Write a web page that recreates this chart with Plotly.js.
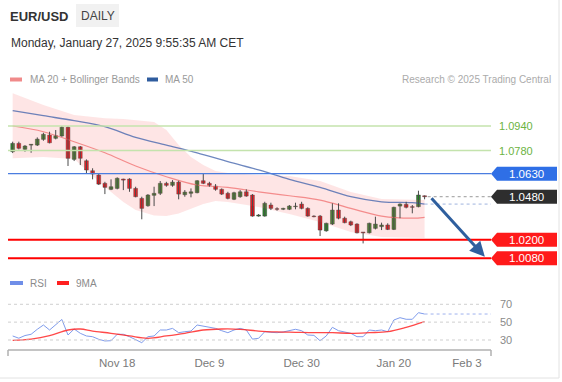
<!DOCTYPE html>
<html><head><meta charset="utf-8">
<script src="https://cdn.plot.ly/plotly-3.0.1.min.js"></script>
<style>html,body{margin:0;padding:0;background:#fff}#chart{width:562px;height:382px}</style>
</head><body><div id="chart"></div>
<script>
// ---- data ----
const openP  = [1.0773,1.0827,1.0788,1.0816,1.0816,1.0853,1.0881,1.0860,1.0875,1.0932,1.0723,1.0805,1.0714,1.0649,1.0621,1.0567,1.0528,1.0534,1.0595,1.0595,1.0534,1.0469,1.0421,1.0489,1.0502,1.0567,1.0554,1.0575,1.0493,1.0502,1.0506,1.0584,1.0567,1.0549,1.0528,1.0502,1.0463,1.0480,1.0512,1.0491,1.0354,1.0354,1.0426,1.0402,1.0398,1.0398,1.0415,1.0432,1.0404,1.0354,1.0354,1.0258,1.0302,1.0393,1.0340,1.0317,1.0302,1.0250,1.0245,1.0274,1.0285,1.0296,1.0267,1.0419,1.0430,1.0415,1.0415,1.0486];
const highP  = [1.0838,1.0838,1.0816,1.0823,1.0866,1.0896,1.0903,1.0914,1.0940,1.0938,1.0810,1.0810,1.0723,1.0665,1.0632,1.0577,1.0593,1.0606,1.0597,1.0600,1.0545,1.0480,1.0497,1.0545,1.0582,1.0577,1.0588,1.0584,1.0523,1.0534,1.0588,1.0632,1.0577,1.0562,1.0534,1.0512,1.0512,1.0523,1.0528,1.0497,1.0367,1.0447,1.0441,1.0411,1.0408,1.0426,1.0441,1.0447,1.0411,1.0359,1.0361,1.0311,1.0437,1.0437,1.0350,1.0324,1.0307,1.0250,1.0311,1.0350,1.0311,1.0307,1.0415,1.0437,1.0447,1.0426,1.0519,1.0488];
const lowP   = [1.0764,1.0788,1.0773,1.0766,1.0810,1.0844,1.0827,1.0853,1.0870,1.0680,1.0712,1.0686,1.0632,1.0593,1.0556,1.0497,1.0523,1.0528,1.0523,1.0512,1.0476,1.0333,1.0415,1.0419,1.0491,1.0545,1.0545,1.0463,1.0480,1.0476,1.0502,1.0562,1.0545,1.0519,1.0491,1.0463,1.0458,1.0473,1.0480,1.0350,1.0350,1.0350,1.0393,1.0389,1.0393,1.0393,1.0398,1.0398,1.0350,1.0346,1.0224,1.0252,1.0296,1.0333,1.0307,1.0289,1.0241,1.0176,1.0241,1.0267,1.0263,1.0263,1.0263,1.0340,1.0404,1.0372,1.0411,1.0463];
const closeP = [1.0827,1.0795,1.0810,1.0821,1.0855,1.0886,1.0831,1.0877,1.0932,1.0730,1.0805,1.0730,1.0654,1.0628,1.0562,1.0541,1.0545,1.0600,1.0588,1.0534,1.0480,1.0404,1.0491,1.0502,1.0567,1.0554,1.0575,1.0497,1.0510,1.0512,1.0584,1.0567,1.0554,1.0528,1.0497,1.0469,1.0506,1.0512,1.0484,1.0354,1.0361,1.0437,1.0404,1.0398,1.0404,1.0419,1.0419,1.0404,1.0354,1.0350,1.0263,1.0307,1.0393,1.0340,1.0311,1.0296,1.0245,1.0245,1.0307,1.0302,1.0296,1.0267,1.0411,1.0432,1.0411,1.0411,1.0491,1.0480];

const maIdx   = [0,5,10,15,20,25,30,35,40,45,50,55,60,65,67];
const ma20    = [1.0940,1.0903,1.0838,1.0766,1.0680,1.0610,1.0556,1.0541,1.0512,1.0486,1.0458,1.0404,1.0354,1.0340,1.0346];
const ma50    = [1.1040,1.1007,1.0975,1.0936,1.0866,1.0816,1.0766,1.0708,1.0654,1.0593,1.0541,1.0480,1.0447,1.0441,1.0432];

const bandIdx   = [0,5,10,13,15,18,20,23,25,27,29,31,33,35,40,45,50,55,60,65,67];
const bandUpper = [1.1153,1.1077,1.1012,1.0999,1.0990,1.0986,1.0979,1.0966,1.0914,1.0816,1.0738,1.0686,1.0647,1.0634,1.0621,1.0615,1.0582,1.0510,1.0465,1.0458,1.0458];
const bandLower = [1.0730,1.0738,1.0725,1.0615,1.0543,1.0445,1.0393,1.0357,1.0354,1.0370,1.0400,1.0432,1.0452,1.0445,1.0413,1.0367,1.0315,1.0250,1.0217,1.0211,1.0211];

const rsi = [34.5,32,35,36.4,42,46.8,41.2,46.8,53,35.6,42.3,37.5,34.5,33.7,30.8,28.9,29.2,36.4,36.4,33.7,30,27,33.7,34.5,41.2,41.2,43,38.2,39.3,40,46.8,45.7,44.2,43,40.4,38.2,41.2,43,41.2,31,31.9,39.3,38.6,38.2,39,40.4,42,40.4,35.6,35.2,29.2,34.5,44.2,40.4,39,37.5,33.7,33.7,41.2,40.4,41.2,39.3,52.4,55,53.2,53.2,60.6,59.1];
const rsiMaIdx = [0,3,6,9,11,13,16,19,22,25,28,31,34,37,40,43,46,49,52,55,58,61,64,67];
const rsiMa    = [29.6,31,34.8,41.2,42.3,40,37.5,34.5,31.9,34.5,37.5,41.2,42.3,42,40,39,38.6,38.2,38.2,37.5,38.2,39.3,44.2,50.5];

const resistance = [1.0940,1.0780];
const pivot = 1.0630;
const support = [1.0200,1.0080];
const rsiLevels = [70,50,30];
const tickLabels = ['Nov 18','Dec 9','Dec 30','Jan 20','Feb 3'];
const tickIdx    = [17,32,47,62,73.9];

// ---- drawing ----
const FONT = 'Liberation Sans, Arial, sans-serif';
const W=562,H=382,ML=8,MR=71,MT=85,MB=32;
const PW=W-ML-MR, PH=H-MT-MB;
const px = x => (x-ML)/PW;
const py = y => (H-MB-y)/PH;
const XR=[-0.76,77.8];
const YR=[1.0016,1.1207];
const priceDom=[(H-MB-268)/PH,1];
const rsiDom=[0,(H-MB-295)/PH];
const unitPerPx=(YR[1]-YR[0])/(PH*(priceDom[1]-priceDom[0]));

const n=openP.length;
const idx=openP.map((_,i)=>i);
const last=n-1;

// wicks
const wx=[],wy=[];
idx.forEach(i=>{wx.push(i,i,null);wy.push(lowP[i],highP[i],null);});
const bodyBase=idx.map(i=>Math.min(openP[i],closeP[i]));
const bodyH=idx.map(i=>Math.max(Math.abs(closeP[i]-openP[i]),0.00014));
const bodyCol=idx.map(i=>closeP[i]>=openP[i]?'#2f8a2f':'#e8141b');

const traces=[
 {x:bandIdx,y:bandUpper,type:'scatter',mode:'lines',line:{width:0,color:'rgba(0,0,0,0)'},xaxis:'x',yaxis:'y',hoverinfo:'skip'},
 {x:bandIdx,y:bandLower,type:'scatter',mode:'lines',line:{width:0,color:'rgba(0,0,0,0)'},fill:'tonexty',fillcolor:'rgba(250,110,110,0.18)',xaxis:'x',yaxis:'y',hoverinfo:'skip'},
 {x:maIdx,y:ma20,type:'scatter',mode:'lines',line:{width:1.2,color:'rgba(240,110,110,0.75)',shape:'spline'},xaxis:'x',yaxis:'y'},
 {x:maIdx,y:ma50,type:'scatter',mode:'lines',line:{width:1.3,color:'rgba(60,95,170,0.75)',shape:'spline'},xaxis:'x',yaxis:'y'},
 {x:wx,y:wy,type:'scatter',mode:'lines',line:{width:1,color:'#4a4a4a'},xaxis:'x',yaxis:'y',connectgaps:false},
 {x:idx,y:bodyH,base:bodyBase,type:'bar',width:0.62,marker:{color:bodyCol,line:{color:'rgba(40,40,40,0.7)',width:0.6}},xaxis:'x',yaxis:'y'},
 {x:idx,y:rsi,type:'scatter',mode:'lines',line:{width:1,color:'#7f9cec'},xaxis:'x',yaxis:'y2'},
 {x:rsiMaIdx,y:rsiMa,type:'scatter',mode:'lines',line:{width:1.3,color:'rgba(255,40,40,0.85)',shape:'spline'},xaxis:'x',yaxis:'y2'}
];

const shapes=[];
const ann=[];
function txt(o){return Object.assign({showarrow:false,xanchor:'center',yanchor:'middle'},o);}
// horizontal levels
resistance.forEach(v=>{
 shapes.push({type:'line',xref:'paper',yref:'y',x0:0,x1:1,y0:v,y1:v,line:{color:'#c4e3ad',width:1.5}});
 ann.push(txt({xref:'paper',yref:'y',x:px(516),y:v,text:v.toFixed(4),font:{family:FONT,size:11,color:'#6cb33f'}}));
});
function tagBox(v,col){
 const h=7*unitPerPx;
 const path=`M ${px(491)},${v} L ${px(497)},${v+h} L ${px(557)},${v+h} L ${px(557)},${v-h} L ${px(497)},${v-h} Z`;
 shapes.push({type:'path',xref:'paper',yref:'y',path:path,fillcolor:col,line:{width:0}});
 ann.push(txt({xref:'paper',yref:'y',x:px(526),y:v,text:v.toFixed(4),font:{family:FONT,size:11.5,color:'#ffffff'}}));
}
shapes.push({type:'line',xref:'paper',yref:'y',x0:0,x1:1,y0:pivot,y1:pivot,line:{color:'#4a7de0',width:1.3}});
tagBox(pivot,'#2f6fe6');
support.forEach(v=>{
 shapes.push({type:'line',xref:'paper',yref:'y',x0:0,x1:1,y0:v,y1:v,line:{color:'#ff0000',width:2}});
 tagBox(v,'#ff1a1a');
});
// current price: dotted from last candle + dark box
shapes.push({type:'line',xref:'x',yref:'y',x0:last+0.5,x1:XR[1],y0:closeP[last],y1:closeP[last],line:{color:'#9a9a9a',width:1,dash:'dot'}});
tagBox(closeP[last],'#2e2e2e');
shapes.push({type:'line',xref:'x',yref:'y',x0:last,x1:XR[1],y0:ma50[ma50.length-1],y1:ma50[ma50.length-1],line:{color:'#9fb4de',width:1,dash:'dot'}});
shapes.push({type:'line',xref:'x',yref:'y2',x0:last,x1:XR[1],y0:rsi[last],y1:rsi[last],line:{color:'#9fb2ee',width:1,dash:'dot'}});
// RSI grid + labels
rsiLevels.forEach(v=>{
 shapes.push({type:'line',xref:'paper',yref:'y2',x0:0,x1:1,y0:v,y1:v,line:{color:'#cfcfcf',width:1,dash:'dot'}});
 ann.push(txt({xref:'paper',yref:'y2',x:px(506),y:v,text:String(v),font:{family:FONT,size:11,color:'#8a8a8a'}}));
});
// bottom axis line with end ticks
shapes.push({type:'line',xref:'paper',yref:'paper',x0:0,x1:1,y0:0,y1:0,line:{color:'#b0b0b0',width:1.5}});
shapes.push({type:'line',xref:'paper',yref:'paper',x0:0,x1:0,y0:0,y1:py(356),line:{color:'#b0b0b0',width:1.5}});
shapes.push({type:'line',xref:'paper',yref:'paper',x0:1,x1:1,y0:0,y1:py(356),line:{color:'#b0b0b0',width:1.5}});
// frame lines
shapes.push({type:'line',xref:'paper',yref:'paper',x0:px(0),x1:px(559),y0:py(378),y1:py(378),line:{color:'#e2e2e2',width:1}});
shapes.push({type:'line',xref:'paper',yref:'paper',x0:px(559),x1:px(559),y0:py(0),y1:py(378),line:{color:'#e2e2e2',width:1}});
// header
shapes.push({type:'rect',xref:'paper',yref:'paper',x0:px(76),x1:px(119),y0:py(27),y1:py(4),fillcolor:'#f1f1f1',line:{width:0}});
ann.push(txt({xref:'paper',yref:'paper',x:px(8),y:py(16),xanchor:'left',text:'<b>EUR/USD</b>',font:{family:FONT,size:13,color:'#333'}}));
ann.push(txt({xref:'paper',yref:'paper',x:px(97.5),y:py(16),text:'DAILY',font:{family:FONT,size:12,color:'#444'}}));
ann.push(txt({xref:'paper',yref:'paper',x:px(9),y:py(43),xanchor:'left',text:'Monday, January 27, 2025 9:55:35 AM CET',font:{family:FONT,size:12,color:'#333'}}));
// legends
shapes.push({type:'rect',xref:'paper',yref:'paper',x0:px(10),x1:px(22),y0:py(81.5),y1:py(77.5),fillcolor:'#f08a8a',line:{width:0}});
ann.push(txt({xref:'paper',yref:'paper',x:px(28),y:py(79.5),xanchor:'left',text:'MA 20 + Bollinger Bands',font:{family:FONT,size:10,color:'#9a9a9a'}}));
shapes.push({type:'rect',xref:'paper',yref:'paper',x0:px(147),x1:px(158),y0:py(81.5),y1:py(77.5),fillcolor:'#2f5c9e',line:{width:0}});
ann.push(txt({xref:'paper',yref:'paper',x:px(163),y:py(79.5),xanchor:'left',text:'MA 50',font:{family:FONT,size:10,color:'#9a9a9a'}}));
ann.push(txt({xref:'paper',yref:'paper',x:px(553),y:py(79.5),xanchor:'right',text:'Research © 2025 Trading Central',font:{family:FONT,size:10,color:'#ababab'}}));
shapes.push({type:'rect',xref:'paper',yref:'paper',x0:px(10),x1:px(23),y0:py(285),y1:py(281),fillcolor:'#6f8ee8',line:{width:0}});
ann.push(txt({xref:'paper',yref:'paper',x:px(28),y:py(283.5),xanchor:'left',text:'RSI',font:{family:FONT,size:10,color:'#8a8a8a'}}));
shapes.push({type:'rect',xref:'paper',yref:'paper',x0:px(57),x1:px(69),y0:py(285),y1:py(281),fillcolor:'#ff2020',line:{width:0}});
ann.push(txt({xref:'paper',yref:'paper',x:px(74),y:py(283.5),xanchor:'left',text:'9MA',font:{family:FONT,size:10,color:'#8a8a8a'}}));
// forecast arrow
ann.push({xref:'x',yref:'y',axref:'x',ayref:'y',x:76.8,y:support[1]+0.0009,ax:last+0.9,ay:closeP[last],text:'',showarrow:true,arrowhead:2,arrowsize:1,arrowwidth:3,arrowcolor:'#2f5f9e',standoff:0,startstandoff:0});

const layout={
 width:W,height:H,margin:{l:ML,r:MR,t:MT,b:MB},
 paper_bgcolor:'#ffffff',plot_bgcolor:'#ffffff',showlegend:false,hovermode:false,
 font:{family:FONT},
 xaxis:{range:XR,anchor:'y2',showgrid:false,zeroline:false,showline:false,ticks:'',tickmode:'array',tickvals:tickIdx,ticktext:tickLabels,tickfont:{family:FONT,size:11.5,color:'#7a7a7a'},ticklabelstandoff:4},
 yaxis:{domain:priceDom,range:YR,visible:false,fixedrange:true},
 yaxis2:{domain:rsiDom,range:[18.8,80.4],visible:false,fixedrange:true},
 shapes:shapes,annotations:ann,bargap:0
};
Plotly.newPlot('chart',traces,layout,{staticPlot:true,displayModeBar:false});
</script></body></html>
